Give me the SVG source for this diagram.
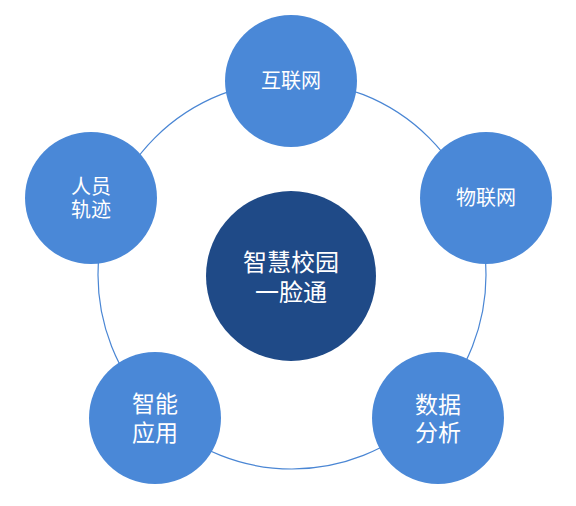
<svg xmlns="http://www.w3.org/2000/svg" width="576" height="506" viewBox="0 0 576 506">
<style>
.ring{fill:none;stroke:#4A86D4;stroke-width:1.2}
.outer{fill:#4A88D7}
.core{fill:#1F4A87}
text{font-family:"Noto Sans CJK SC","Microsoft YaHei",sans-serif;fill:#FFFFFF;text-anchor:middle}
.s20{font-size:20px}
.s23{font-size:23px}
.s24{font-size:24px}
</style>
<rect width="576" height="506" fill="#FFFFFF"/>
<g id="connectors">
<circle class="ring" cx="292" cy="275" r="194"/>
</g>
<g id="center">
<circle class="core" cx="291" cy="276" r="85"/>
<text class="s24" x="291" y="271"><tspan x="291">智慧校园</tspan><tspan x="291" dy="30">一脸通</tspan></text>
</g>
<g id="internet">
<circle class="outer" cx="291" cy="81" r="66"/>
<text class="s20" x="291" y="88">互联网</text>
</g>
<g id="iot">
<circle class="outer" cx="486" cy="198" r="66"/>
<text class="s20" x="486" y="205">物联网</text>
</g>
<g id="trajectory">
<circle class="outer" cx="91" cy="198" r="66"/>
<text class="s20" x="91" y="194"><tspan x="91">人员</tspan><tspan x="91" dy="23">轨迹</tspan></text>
</g>
<g id="smartapp">
<circle class="outer" cx="155" cy="418" r="66"/>
<text class="s23" x="155" y="412"><tspan x="155">智能</tspan><tspan x="155" dy="29">应用</tspan></text>
</g>
<g id="analysis">
<circle class="outer" cx="438" cy="418" r="66"/>
<text class="s23" x="438" y="413"><tspan x="438">数据</tspan><tspan x="438" dy="28">分析</tspan></text>
</g>
</svg>
